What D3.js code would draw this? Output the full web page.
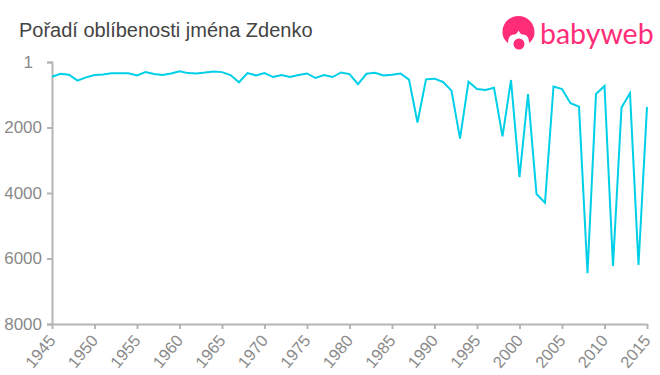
<!DOCTYPE html>
<html>
<head>
<meta charset="utf-8">
<script src="https://cdnjs.cloudflare.com/ajax/libs/d3/7.8.5/d3.min.js"></script>
<style>
  html, body { margin: 0; padding: 0; background: #fff; }
  svg { display: block; font-family: "Liberation Sans", Arial, sans-serif; }
  .axis path, .axis line { stroke: #b5b5b5; stroke-width: 2; fill: none; }
  .axis text { fill: #8a8a8a; font-size: 17px; }
</style>
</head>
<body>
<div id="chart"></div>
<script>
const title = "Pořadí oblíbenosti jména Zdenko";

const years = d3.range(1945, 2016);
const ranks = [
  450, 360, 390, 570, 470, 400, 380, 345, 345, 345,
  410, 310, 370, 400, 350, 285, 340, 350, 325, 290,
  310, 400, 620, 340, 410, 340, 460, 400, 460, 400,
  350, 490, 400, 460, 320, 370, 680, 360, 330, 410,
  390, 350, 540, 1850, 530, 510, 610, 875, 2340, 600,
  825, 855, 785, 2270, 550, 3520, 980, 4030, 4300, 750,
  825, 1260, 1365, 6450, 980, 735, 6230, 1395, 950, 6200,
  1375
];
const xTicks = d3.range(1945, 2016, 5);
const yTicks = [1, 2000, 4000, 6000, 8000];

const width = 660;
const height = 375;
const margin = { top: 62, right: 13, bottom: 51, left: 52 };

const svg = d3.select("#chart").append("svg")
    .attr("width", width)
    .attr("height", height);

const x = d3.scaleLinear()
    .domain([1945, 2015])
    .range([margin.left, width - margin.right]);

const y = d3.scaleLinear()
    .domain([1, 8000])
    .range([margin.top, height - margin.bottom]);

svg.append("text")
    .attr("x", 19)
    .attr("y", 37)
    .attr("fill", "#444")
    .style("font-size", "20px")
    .text(title);

// Axes
const xAxis = svg.append("g")
    .attr("class", "axis")
    .attr("transform", "translate(0," + (height - margin.bottom) + ")")
    .call(d3.axisBottom(x).tickValues(xTicks).tickFormat(d3.format("d")).tickSize(5).tickSizeOuter(0));

// rotate each label around its own tick so the end of the text meets the tick
xAxis.selectAll("text")
    .attr("text-anchor", "end")
    .attr("x", 0)
    .attr("y", 0)
    .attr("dy", 0)
    .style("font-size", "16.5px")
    .attr("transform", "translate(4,17) rotate(-50)");

const yAxis = svg.append("g")
    .attr("class", "axis")
    .attr("transform", "translate(" + margin.left + ",0)")
    .call(d3.axisLeft(y).tickValues(yTicks).tickFormat(d3.format("d")).tickSize(5).tickSizeOuter(5));

yAxis.selectAll("text").attr("x", -10);
// the "1" label sits further left than the others in the original
yAxis.selectAll(".tick").filter(d => d === 1).select("text").attr("x", -19);

// Line
const line = d3.line()
    .x((d, i) => x(years[i]))
    .y(d => y(d));

svg.append("path")
    .datum(ranks)
    .attr("fill", "none")
    .attr("stroke", "#00cfe8")
    .attr("stroke-width", 2)
    .attr("d", line);

// Logo
const logo = svg.append("g").attr("fill", "#ff2d78");
logo.append("path")
    .attr("d", "M508 43 C503 39 502.5 35 502.5 32 C502.5 23 509.5 16 518.5 16 C527.5 16 534.5 23 534.5 32 C534.5 35 534 39 529 43 C529 38 527 34.5 523 34.5 C521 34.5 520 33 518.5 30.5 C517 33 516 34.5 514 34.5 C510 34.5 508 38 508 43 Z");
logo.append("circle").attr("cx", 519).attr("cy", 44).attr("r", 5.5);
logo.append("text")
    .attr("x", 540)
    .attr("y", 44)
    .style("font-family", "Lato, 'Open Sans', sans-serif")
    .style("font-size", "28.5px")
    .text("babyweb");
</script>
</body>
</html>
